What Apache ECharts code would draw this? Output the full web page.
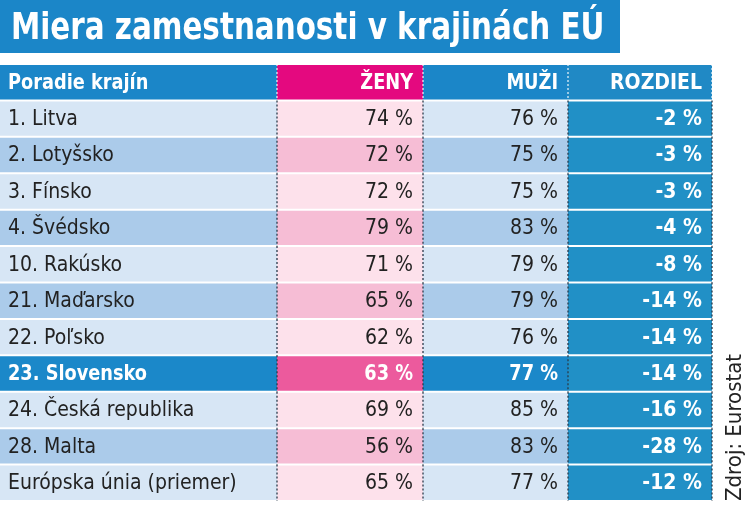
<!DOCTYPE html>
<html><head><meta charset="utf-8">
<script src="https://cdn.jsdelivr.net/npm/echarts@6/dist/echarts.min.js"></script>
<style>html,body{margin:0;padding:0;background:#fff}#c{width:748px;height:505px}</style>
</head><body><div id="c"></div>
<script>
const titleText = 'Miera zamestnanosti v krajinách EÚ';
const sourceText = 'Zdroj: Eurostat';
const headers = ['Poradie krajín', 'ŽENY', 'MUŽI', 'ROZDIEL'];
const countries = ['1. Litva','2. Lotyšsko','3. Fínsko','4. Švédsko','10. Rakúsko','21. Maďarsko','22. Poľsko','23. Slovensko','24. Česká republika','28. Malta','Európska únia (priemer)'];
const women = [74,72,72,79,71,65,62,63,69,56,65];
const men = [76,75,75,83,79,79,76,77,85,83,77];
const diff = [-2,-3,-3,-4,-8,-14,-14,-14,-16,-28,-12];
const highlight = '23. Slovensko';

// layout (not data)
const colEdges = [0, 277, 423, 568, 712];
const FONT = '"DejaVu Sans Condensed","Liberation Sans Narrow","Roboto",sans-serif';

const rowKeys = ['header'].concat(countries);
const cells = [];
headers.forEach((h, c) => cells.push([c, 'header', h]));
countries.forEach((name, i) => {
  cells.push([0, name, name]);
  cells.push([1, name, women[i] + ' %']);
  cells.push([2, name, men[i] + ' %']);
  cells.push([3, name, diff[i] + ' %']);
});

function cellStyle(c, rowIdx, isHl) {
  if (rowIdx === 0) {
    const bg = ['#1b86c8', '#e4097f', '#1b86c8', '#2089c5'][c];
    return {bg, color: '#fff', weight: 'bold', line: 'rgba(255,255,255,0.85)'};
  }
  const odd = rowIdx % 2 === 1;
  if (c === 3) return {bg: '#2190c6', color: '#fff', weight: 'bold', line: '#2b3a4a'};
  if (isHl) {
    if (c === 1) return {bg: '#ec5a9d', color: '#fff', weight: 'bold', line: '#2b3a4a'};
    return {bg: '#1b88c9', color: '#fff', weight: 'bold', line: '#2b3a4a'};
  }
  if (c === 1) return {bg: odd ? '#fde1eb' : '#f6bdd5', color: '#222', weight: 'normal', line: '#2b3a4a'};
  return {bg: odd ? '#d7e6f5' : '#abcbea', color: '#222', weight: 'normal', line: '#2b3a4a'};
}

function renderItem(params, api) {
  const c = api.value(0);
  const rowIdx = api.value(1);
  const key = rowKeys[rowIdx];
  const isHl = key === highlight;
  const p0 = api.coord([colEdges[c], rowIdx]);
  const p1 = api.coord([colEdges[c + 1], rowIdx]);
  const bh = api.size([0, 1])[1];
  const st = cellStyle(c, rowIdx, isHl);
  const x0 = p0[0], x1 = p1[0], yc = p0[1];
  const top = yc - bh / 2 + 1, h = bh - 2;
  const children = [{
    type: 'rect', shape: {x: x0, y: top, width: x1 - x0, height: h},
    style: {fill: st.bg}
  }];
  const txt = cells[params.dataIndex][2];
  const bold = st.weight === 'bold';
  const sx = (bold && c !== 3) ? 0.94 : 1;
  const tx = c === 0 ? x0 + 8 : x1 - 10;
  children.push({
    type: 'text', x: tx, y: yc + 1, scaleX: sx,
    style: {
      text: txt, x: 0, y: 0,
      align: c === 0 ? 'left' : 'right', verticalAlign: 'middle',
      fill: st.color, fontFamily: FONT, fontSize: 21,
      fontWeight: st.weight
    }
  });
  if (c > 0) {
    children.push({type: 'line', shape: {x1: x0, y1: top - 1, x2: x0, y2: top + h + 1},
      style: {stroke: st.line, lineWidth: 1.3, lineDash: [2, 2]}});
  }
  if (c === 3) {
    children.push({type: 'line', shape: {x1: x1, y1: top - 1, x2: x1, y2: top + h + 1},
      style: {stroke: rowIdx === 0 ? 'rgba(255,255,255,0.85)' : '#2b3a4a', lineWidth: 1.3, lineDash: [2, 2]}});
  }
  return {type: 'group', children};
}

const chart = echarts.init(document.getElementById('c'), null, {renderer: 'canvas'});
chart.setOption({
  animation: false,
  graphic: [
    {type: 'rect', left: 0, top: 0, z: -1, shape: {width: 620, height: 53}, style: {fill: '#1b86c8'}},
    {type: 'text', x: 11, y: 29, scaleX: 0.86,
      style: {text: titleText, fill: '#fff', fontFamily: FONT, fontSize: 38, fontWeight: 'bold', align: 'left', verticalAlign: 'middle'}},
    {type: 'text', rotation: Math.PI / 2, x: 724, y: 501,
      style: {text: sourceText, fill: '#222', fontFamily: FONT, fontSize: 22, align: 'left', verticalAlign: 'top'}}
  ],
  grid: {left: 0, top: 64, width: 712, height: 437},
  xAxis: {type: 'value', min: 0, max: 712, show: false},
  yAxis: {type: 'category', data: rowKeys, inverse: true, show: false},
  series: [{
    type: 'custom', renderItem,
    data: cells.map(d => [d[0], rowKeys.indexOf(d[1])]),
    encode: {x: 0, y: 1}
  }]
});
</script></body></html>
